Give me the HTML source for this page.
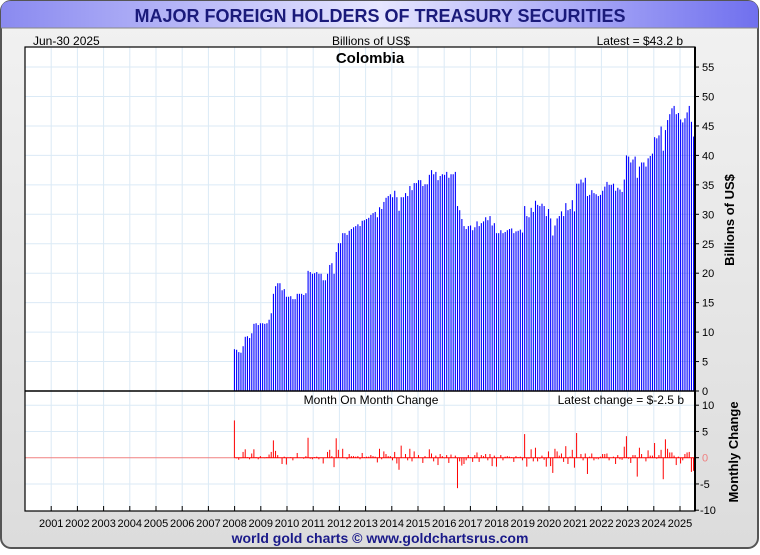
<!DOCTYPE html>
<html><head><meta charset="utf-8"><style>
body{margin:0;background:#fff;}
svg text{font-family:"Liberation Sans",sans-serif;}
</style></head><body>
<svg id="c" width="760" height="550" xmlns="http://www.w3.org/2000/svg">
<defs>
<linearGradient id="tg" x1="0" y1="0" x2="1" y2="0">
<stop offset="0" stop-color="#8a8af0"/><stop offset="0.5" stop-color="#e6e6ff"/><stop offset="1" stop-color="#7070ee"/>
</linearGradient>
<linearGradient id="bg" x1="0" y1="0" x2="0" y2="1">
<stop offset="0" stop-color="#f2f2f2"/><stop offset="1" stop-color="#dcdcdc"/>
</linearGradient>
</defs>
<rect x="1" y="1" width="757" height="547" rx="10" fill="url(#bg)" stroke="#555" stroke-width="2"/>
<path d="M1,28 L1,11 Q1,1 11,1 L748,1 Q758,1 758,11 L758,28 Z" fill="url(#tg)"/>
<line x1="1" y1="28" x2="758" y2="28" stroke="#888" stroke-width="1"/>
<text x="380" y="22" text-anchor="middle" font-size="18" font-weight="bold" fill="#1a1a7a">MAJOR FOREIGN HOLDERS OF TREASURY SECURITIES</text>
<text x="33" y="45" font-size="12" fill="#000">Jun-30  2025</text>
<text x="371" y="45" text-anchor="middle" font-size="12" fill="#000">Billions of US$</text>
<text x="683" y="45" text-anchor="end" font-size="12" fill="#000">Latest = $43.2 b</text>
<rect x="25" y="47" width="670" height="464" fill="#fff"/>
<g id="grid"></g>
<g id="bars"></g>
<g id="chg"></g>
<g id="axes"></g>
<text x="371" y="404" text-anchor="middle" font-size="12" fill="#000">Month On Month Change</text>
<text x="684" y="404" text-anchor="end" font-size="12" fill="#000">Latest change = $-2.5 b</text>
<text x="370" y="63" text-anchor="middle" font-size="15" font-weight="bold" fill="#000">Colombia</text>
<text transform="translate(734,220) rotate(-90)" text-anchor="middle" font-size="13" font-weight="bold" fill="#000">Billions of US$</text>
<text transform="translate(738,452) rotate(-90)" text-anchor="middle" font-size="13" font-weight="bold" fill="#000">Monthly Change</text>
<text x="380" y="543" text-anchor="middle" font-size="14" font-weight="bold" fill="#1a1a8a">world gold charts © www.goldchartsrus.com</text>
</svg>
<script>
const startYear = 2008;
const holdings = [7.1,7.0,6.6,6.5,7.6,9.2,9.3,9.0,9.8,11.4,11.5,11.2,11.5,11.5,11.4,11.5,12.1,13.2,16.5,17.8,18.3,18.3,17.1,17.3,16.0,16.0,16.1,15.6,15.6,16.5,16.5,16.5,16.3,16.6,20.4,20.2,19.9,20.0,20.2,19.9,19.9,18.8,18.8,19.9,21.4,21.7,19.9,23.6,25.1,25.1,26.8,26.8,26.5,27.2,27.5,27.8,28.0,28.3,28.0,28.9,29.0,29.2,29.4,29.9,30.2,30.4,29.5,31.2,30.9,32.1,32.8,33.1,33.4,32.9,34.0,32.9,30.6,32.9,32.9,33.6,33.1,34.8,34.1,35.3,35.3,35.8,35.8,34.8,35.1,35.1,36.7,37.5,36.8,37.2,35.8,36.5,36.8,36.7,37.2,36.2,36.8,36.8,37.2,31.4,30.7,29.2,28.0,27.5,28.0,28.1,27.3,27.8,28.8,28.0,28.5,28.8,29.5,29.0,29.7,28.1,28.5,26.8,26.8,27.3,26.8,27.0,27.3,27.5,27.6,26.8,27.1,27.2,27.4,26.9,31.4,29.7,29.5,31.1,30.4,32.3,31.6,31.4,31.8,31.4,29.7,30.9,29.3,26.4,28.1,29.3,29.7,30.5,29.7,31.9,30.7,30.9,32.4,30.5,35.2,35.2,35.9,35.4,36.2,33.1,33.3,34.1,33.6,33.4,33.1,33.3,34.0,34.7,35.5,35.0,35.0,35.2,34.0,34.5,34.2,33.8,35.9,40.0,39.8,38.8,39.3,39.8,36.2,38.1,38.8,38.8,38.1,39.5,39.9,40.3,43.1,42.9,43.4,44.9,40.8,44.3,46.0,47.0,48.0,48.4,47.0,47.2,46.1,45.6,46.3,47.3,48.4,45.7,43.2];
const topTicks = [0,5,10,15,20,25,30,35,40,45,50,55];
const lowTicks = [-10,-5,0,5,10];
const yearLabels = [2001,2002,2003,2004,2005,2006,2007,2008,2009,2010,2011,2012,2013,2014,2015,2016,2017,2018,2019,2020,2021,2022,2023,2024,2025];

const NS="http://www.w3.org/2000/svg";
const X0=25,X1=695,Y0=391,Y1=47,YL0=457.7;
const xOf=t=>X0+(t-2000)*26.2;
const yTop=v=>Y0-v*5.89;
const yLow=v=>YL0-v*5.25;
function mk(p,tag,a){const e=document.createElementNS(NS,tag);for(const k in a)e.setAttribute(k,a[k]);p.appendChild(e);return e;}
const grid=document.getElementById('grid'),bars=document.getElementById('bars'),chg=document.getElementById('chg'),axes=document.getElementById('axes');
for(let y=2001;y<=2025;y++){const x=xOf(y);
 const l=mk(grid,'line',{x1:x,y1:Y1,x2:x,y2:511,stroke:'#dbeaf6','stroke-width':1});
 
 }
topTicks.forEach(v=>{if(v===0)return;const y=yTop(v);
 const l=mk(grid,'line',{x1:X0,y1:y,x2:X1,y2:y,stroke:'#dbeaf6','stroke-width':1});
 
 });
lowTicks.forEach(v=>{if(v===0||v===-10)return;const y=yLow(v);
 const l=mk(grid,'line',{x1:X0,y1:y,x2:X1,y2:y,stroke:'#dbeaf6','stroke-width':1});
 
 });
const mx=i=>xOf(startYear+i/12*0.992)-0.2;
holdings.forEach((v,i)=>{const x=mx(i);
 const b=mk(bars,'rect',{x:x-0.5,y:yTop(v),width:1.1,height:Y0-yTop(v),fill:'#0000ff'});
 
 });
const zl=mk(chg,'line',{x1:X0,y1:YL0,x2:mx(0),y2:YL0,stroke:'#f08080','stroke-width':1});


const z2=mk(chg,'line',{x1:mx(0),y1:YL0,x2:X1,y2:YL0,stroke:'#ff0000','stroke-width':1});


holdings.forEach((v,i)=>{const d=i===0?v:v-holdings[i-1];const x=mx(i);
 const y=yLow(d);
 const b=mk(chg,'line',{x1:x,y1:YL0,x2:x,y2:y,stroke:'#ff0000','stroke-width':1});
 
 });
const fr=mk(axes,'rect',{x:X0,y:Y1,width:X1-X0,height:511-Y1,fill:'none',stroke:'#000','stroke-width':1.2});


const sep=mk(axes,'line',{x1:X0,y1:Y0,x2:X1,y2:Y0,stroke:'#000','stroke-width':1.5});


const ra=mk(axes,'line',{x1:X1,y1:Y1,x2:X1,y2:511,stroke:'#000','stroke-width':2});


topTicks.forEach(v=>{const y=yTop(v);
 const t=mk(axes,'line',{x1:X1,y1:y,x2:X1+4,y2:y,stroke:'#000'});
 
 
 const tx=mk(axes,'text',{x:702,y:y+4,'font-size':11,fill:'#000'});tx.textContent=v;
 
 });
lowTicks.forEach(v=>{const y=Math.min(yLow(v),511);
 const t=mk(axes,'line',{x1:X1,y1:y,x2:X1+4,y2:y,stroke:'#000'});
 
 
 const tx=mk(axes,'text',{x:v<0?700:702,y:y+4,'font-size':11,fill:v===0?'#f08080':'#000'});tx.textContent=v;
 
 });
yearLabels.forEach(yr=>{const x=xOf(yr);
 const t=mk(axes,'line',{x1:x,y1:506,x2:x,y2:511,stroke:'#000'});
 
 
 const tx=mk(axes,'text',{x:x,y:527,'font-size':11,'text-anchor':'middle',fill:'#000'});tx.textContent=yr;
 
 });
</script>
</body></html>
